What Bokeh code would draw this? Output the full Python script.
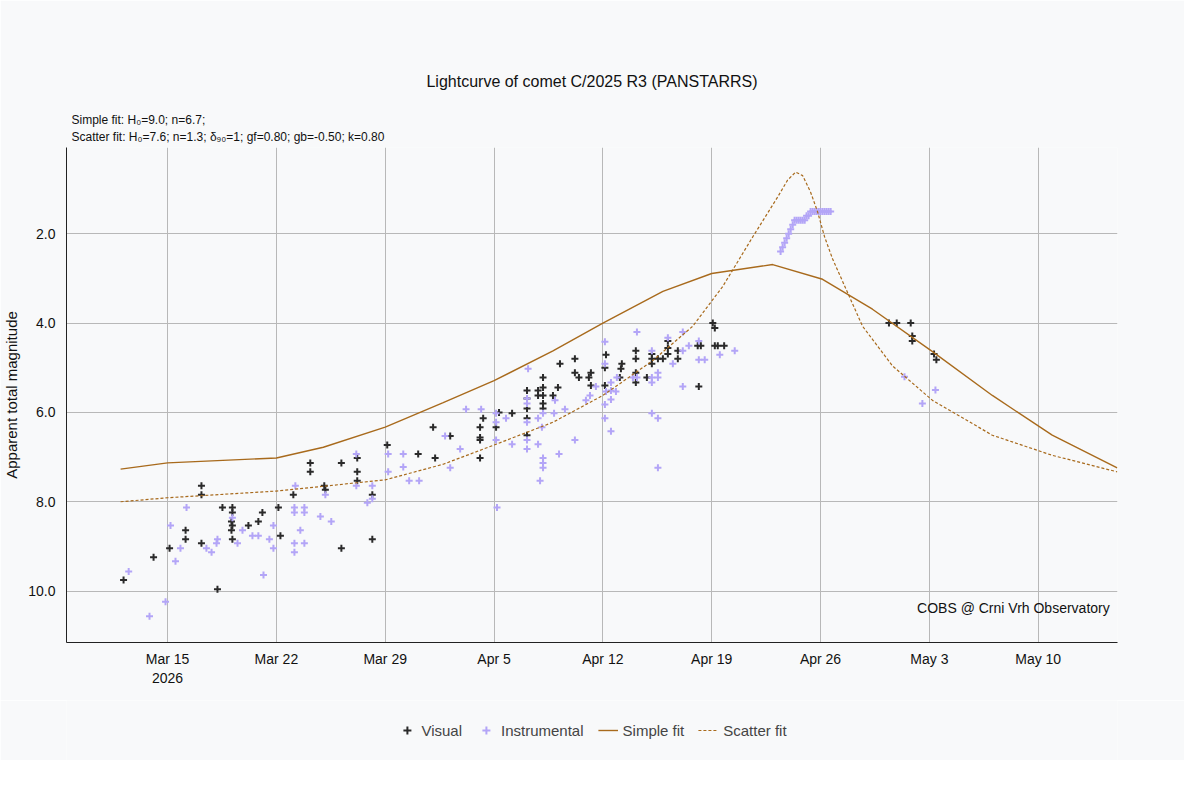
from bokeh.plotting import figure
from bokeh.models import FixedTicker, Title, Legend, LegendItem, Label, Range1d
from bokeh.layouts import column
from bokeh.embed import file_html
from bokeh.resources import INLINE

# days since 2026-03-15
vis_d = [-2.83,-0.9,0.13,1.16,1.16,2.18,2.18,2.18,3.21,3.53,4.17,4.17,4.11,4.17,4.11,4.17,5.2,5.84,6.1,7.13,7.26,8.09,9.18,9.18,10.08,10.15,11.18,11.18,12.2,12.2,12.2,13.17,13.17,14.13,16.12,
         17.08,17.21,18.18,20.1,20.1,20.1,20.1,20.3,21.13,21.32,22.16,23.12,23.12,23.12,23.12,23.12,23.83,23.83,24.15,24.15,24.15,24.15,24.15,24.79,25.11,25.24,26.2,26.2,26.46,27.1,27.23,27.23,28.13,28.13,28.2,29.09,29.16,29.22,30.12,30.12,30.12,30.12,30.83,31.15,31.15,31.15,31.54,31.86,32.18,32.18,32.18,32.82,32.82,34.1,34.3,34.17,35.07,35.2,35.2,35.39,35.8,
         46.4,46.9,47.8,47.9,47.9,49.3,49.45]
vis_m = [9.75,9.24,9.04,8.64,8.84,7.64,7.84,8.93,9.96,8.13,8.13,8.24,8.44,8.53,8.64,8.84,8.53,8.44,8.24,8.13,8.76,7.84,7.13,7.33,7.64,7.73,7.13,9.04,7.02,7.33,7.53,7.84,8.84,6.73,6.93,
         6.33,7.02,6.53,6.33,6.56,6.62,7.02,6.13,6.33,6.0,6.02,5.51,5.69,5.91,6.13,6.51,5.51,5.62,5.44,5.22,5.62,5.8,5.91,5.62,5.44,4.91,4.8,5.11,5.22,5.22,5.11,5.4,5.0,5.4,4.71,5.22,5.02,4.91,4.62,4.8,5.11,5.33,5.22,4.69,4.8,4.91,4.8,4.8,4.4,4.56,4.69,4.62,4.8,4.51,4.51,5.42,4.0,4.11,4.51,4.51,4.51,
         4.0,4.0,4.0,4.29,4.4,4.69,4.82]
ins_d = [-2.5,-1.16,-0.13,0.19,0.51,0.83,1.22,2.5,2.83,3.15,3.21,4.17,4.5,4.82,5.46,5.84,6.17,6.55,6.81,6.81,8.16,8.16,8.16,8.16,8.22,8.54,8.8,8.8,8.8,9.83,10.15,10.53,12.14,12.14,12.85,13.17,13.17,14.19,14.19,15.16,15.16,15.54,16.18,
         17.85,18.18,18.82,19.2,20.17,21.13,21.13,21.13,21.19,21.77,22.16,23.12,23.12,23.12,23.12,23.12,23.19,23.83,23.83,23.96,24.08,24.15,24.15,24.15,24.15,24.92,24.86,25.18,25.56,26.2,26.91,27.17,27.55,28.13,28.13,28.13,28.13,28.2,28.52,28.52,28.52,28.52,28.84,28.9,29.93,30.19,30.19,31.15,31.15,31.15,31.15,31.54,31.54,31.54,31.54,32.18,32.5,33.14,33.14,33.14,33.53,34.17,34.17,34.55,35.52,36.48,
         39.43,39.56,39.69,39.82,39.95,40.08,40.21,40.33,40.46,40.59,40.72,40.85,40.98,41.1,41.23,41.36,41.49,41.62,41.75,41.88,42.0,42.13,42.26,42.39,42.52,42.65,
         47.4,48.55,49.39]
ins_m = [9.56,10.56,10.24,8.53,9.33,9.04,8.13,9.04,9.13,8.93,8.84,8.36,8.93,8.64,8.76,8.76,9.64,8.84,8.53,9.04,8.13,8.24,8.93,9.13,7.64,8.64,8.13,8.24,8.93,8.33,7.84,8.44,6.93,7.64,8.02,7.64,7.93,6.93,7.33,6.93,7.22,7.53,7.53,
         6.53,7.24,6.82,5.93,5.93,6.02,6.22,6.62,8.13,6.13,6.71,5.69,5.8,6.22,6.62,6.82,5.02,6.13,6.71,7.53,6.33,7.02,7.13,7.24,6.02,5.73,6.02,6.93,5.93,6.62,5.73,5.62,5.42,4.42,4.91,5.82,6.13,5.53,5.33,5.51,5.71,6.42,5.53,5.22,5.22,4.2,5.22,4.62,5.22,5.33,6.02,5.11,5.22,6.13,7.24,4.33,4.91,4.2,4.62,5.42,4.51,4.4,4.82,4.82,4.71,4.62,
         2.4,2.3,2.2,2.1,2.0,1.9,1.8,1.7,1.7,1.7,1.7,1.7,1.7,1.6,1.6,1.5,1.5,1.5,1.5,1.5,1.5,1.5,1.5,1.5,1.5,1.5,
         5.2,5.8,5.5]
simple_d = [-3.02,0,7.0,10.02,14.0,17.73,21.0,24.79,28.0,31.86,35.0,38.92,42.13,45.34,49.2,53.05,56.9,61.08]
simple_m = [7.27,7.13,7.02,6.78,6.33,5.78,5.29,4.62,4.0,3.29,2.89,2.69,3.02,3.69,4.64,5.62,6.51,7.24]
scatter_d = [-3.02,0,7.0,14.0,17.73,21.0,24.79,28.0,31.21,33.78,35.71,37.64,39.24,39.88,40.4,40.85,41.36,41.81,42.26,42.77,44.7,46.63,49.2,53.05,56.9,61.08]
scatter_m = [8.0,7.91,7.76,7.51,7.16,6.73,6.22,5.62,4.84,4.07,3.18,2.07,1.18,0.8,0.62,0.7,1.07,1.51,2.07,2.56,4.07,4.96,5.73,6.51,6.96,7.33]
tick_days = [0,7,14,21,28,35,42,49,56]
tick_labels = ["Mar 15\n2026","Mar 22","Mar 29","Apr 5","Apr 12","Apr 19","Apr 26","May 3","May 10"]
legend_labels = ["Visual", "Instrumental", "Simple fit", "Scatter fit"]

BG = "#f8f9fa"
FONT = "Liberation Sans"
VIS_C, INS_C, FIT_C = "#2a2a2a", "#b3a5f7", "#a86a1c"

p = figure(width=1184, height=700, output_backend="svg", toolbar_location=None,
           x_range=Range1d(-6.5, 61.1), y_range=Range1d(11.15, 0.07),
           background_fill_color=BG, border_fill_color=BG,
           min_border_left=65, min_border_right=67, min_border_top=147, min_border_bottom=58)
p.outline_line_color = None

p.add_layout(Title(text="Scatter fit: H\u2080=7.6; n=1.3; \u03b4\u2089\u2080=1; gf=0.80; gb=-0.50; k=0.80", text_font=FONT, text_font_size="12px", text_font_style="normal", text_color="#111111", align="left", offset=5, standoff=7), "above")
p.add_layout(Title(text="Simple fit: H\u2080=9.0; n=6.7;", text_font=FONT, text_font_size="12px", text_font_style="normal", text_color="#111111", align="left", offset=5, standoff=-5), "above")
p.add_layout(Title(text="Lightcurve of comet C/2025 R3 (PANSTARRS)", text_font=FONT, text_font_size="16px", text_font_style="normal", text_color="#111111", align="center", standoff=48), "above")

p.xaxis.ticker = FixedTicker(ticks=tick_days)
p.xaxis.major_label_overrides = {d: l for d, l in zip(tick_days, tick_labels)}
p.xaxis.major_label_standoff = 2
p.yaxis.ticker = FixedTicker(ticks=[2, 4, 6, 8, 10])
p.yaxis.major_label_overrides = {2: "2.0", 4: "4.0", 6: "6.0", 8: "8.0", 10: "10.0"}
for ax in (p.xaxis, p.yaxis):
    ax.major_tick_line_color = None
    ax.minor_tick_line_color = None
    ax.axis_line_color = "#222222"
    ax.major_label_text_font = FONT
    ax.major_label_text_font_size = "14px"
    ax.major_label_text_color = "#111111"
p.yaxis.axis_label = "Apparent total magnitude"
p.yaxis.axis_label_text_font = FONT
p.yaxis.axis_label_text_font_style = "normal"
p.yaxis.axis_label_text_font_size = "15px"
p.yaxis.axis_label_text_color = "#111111"
p.grid.grid_line_color = "#b8b8b8"
p.grid.grid_line_width = 1

p.scatter(vis_d, vis_m, marker="cross", size=7, line_width=2, color=VIS_C)
p.scatter(ins_d, ins_m, marker="cross", size=7, line_width=2, color=INS_C)
p.line(simple_d, simple_m, color=FIT_C, line_width=1.4)
p.line(scatter_d, scatter_m, color=FIT_C, line_width=1.2, line_dash="3 2")

p.add_layout(Label(x=60.6, y=10.55, text="COBS @ Crni Vrh Observatory", text_align="right", text_font=FONT, text_font_size="14px", text_color="#111111"))

# legend strip (glyphs placed outside the visible range, only the legend shows)
q = figure(width=1184, height=60, output_backend="svg", toolbar_location=None,
           background_fill_color=BG, border_fill_color=BG, x_range=Range1d(0, 1), y_range=Range1d(0, 1),
           min_border=0)
q.outline_line_color = None
q.axis.visible = False
q.grid.visible = False
l1 = q.scatter([5], [5], marker="cross", size=7, line_width=2, color=VIS_C)
l2 = q.scatter([5], [5], marker="cross", size=7, line_width=2, color=INS_C)
l3 = q.line([5, 6], [5, 5], color=FIT_C, line_width=1.4)
l4 = q.line([5, 6], [5, 5], color=FIT_C, line_width=1.2, line_dash="3 2")
leg = Legend(items=[LegendItem(label=t, renderers=[r]) for t, r in zip(legend_labels, [l1, l2, l3, l4])],
             orientation="horizontal", location="center", background_fill_alpha=0, border_line_color=None,
             label_text_font=FONT, label_text_font_size="15px", glyph_width=20, spacing=14, margin=0, padding=4)
q.add_layout(leg)

open("out.html", "w").write(file_html(column(p, q, spacing=0), INLINE))
